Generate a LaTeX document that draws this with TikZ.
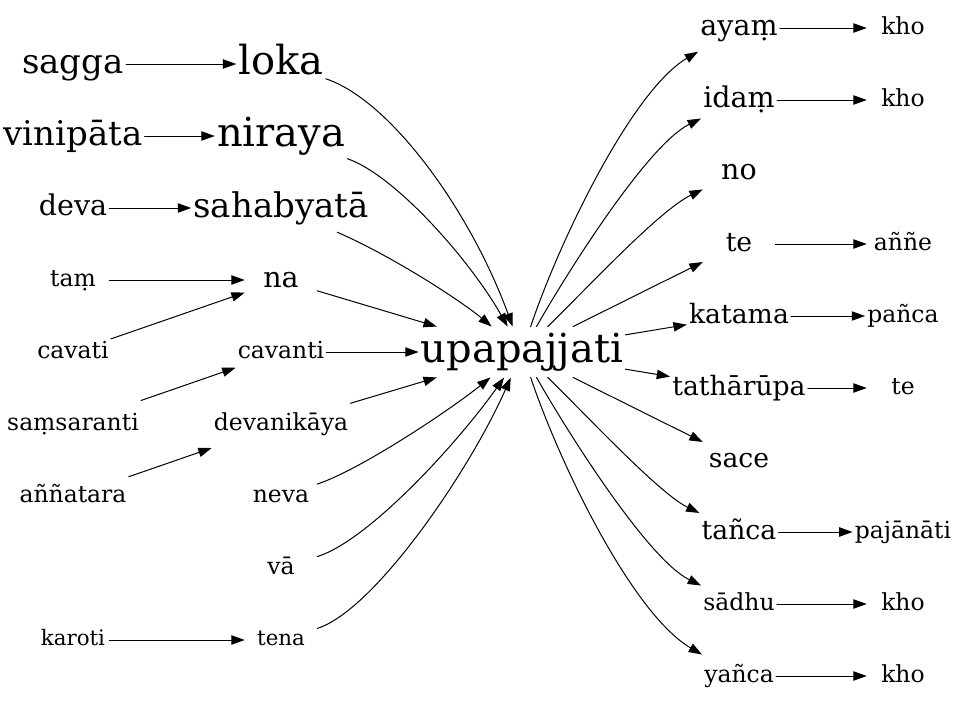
\documentclass[tikz,border=0pt]{standalone}
\usepackage{fontspec}
\setmainfont{DejaVuSerif.ttf}
\usetikzlibrary{arrows.meta}
\begin{document}
\begin{tikzpicture}[x=0.75pt,y=-0.75pt,line join=round,line cap=round,>={Triangle[length=10pt,width=7pt]},
	every node/.style={inner xsep=1.5pt,inner ysep=3pt,minimum width=54pt,minimum height=36pt},
	fhuge/.style={font=\fontsize{30}{36}\selectfont,text height=24pt,text depth=7.8pt},
	fbig/.style={font=\fontsize{25.5}{30}\selectfont,text height=20.4pt,text depth=6.6pt},
	fmid/.style={font=\fontsize{21.4}{26}\selectfont,text height=17.1pt,text depth=5.6pt},
	fnorm/.style={font=\fontsize{20}{24}\selectfont,text height=16pt,text depth=5.2pt},
	fsmall/.style={font=\fontsize{17.6}{21}\selectfont,text height=14.1pt,text depth=4.6pt},
	ftiny/.style={font=\fontsize{16}{19}\selectfont,text height=12.8pt,text depth=4.2pt},
	link/.style={->,line width=0.75pt}]
	\useasboundingbox (0,0) rectangle (957,707);
	% left column
	\node[fbig] (sagga) at (73,64) {sagga};
	\node[fbig] (vinipata) at (73,136) {vinipāta};
	\node[fmid] (deva) at (73,208) {deva};
	\node[fsmall] (tam) at (73,280) {taṃ};
	\node[fsmall] (cavati) at (73,352) {cavati};
	\node[fsmall] (samsaranti) at (73,424) {saṃsaranti};
	\node[fsmall] (annatara) at (73,496) {aññatara};
	\node[ftiny] (karoti) at (73,640) {karoti};
	% middle column
	\node[fhuge] (loka) at (281,64) {loka};
	\node[fhuge] (niraya) at (281,136) {niraya};
	\node[fbig] (sahabyata) at (281,208) {sahabyatā};
	\node[fmid] (na) at (281,280) {na};
	\node[fsmall] (cavanti) at (281,352) {cavanti};
	\node[fsmall] (devanikaya) at (281,424) {devanikāya};
	\node[fsmall] (neva) at (281,496) {neva};
	\node[fsmall] (va) at (281,568) {vā};
	\node[ftiny] (tena) at (281,640) {tena};
	% centre
	\node[fhuge] (upa) at (522,352) {upapajjati};
	% right column
	\node[fmid] (ayam) at (739,28) {ayaṃ};
	\node[fmid] (idam) at (739,100) {idaṃ};
	\node[fmid] (no) at (739,172) {no};
	\node[fnorm] (te) at (739,244) {te};
	\node[fnorm] (katama) at (739,316) {katama};
	\node[fnorm] (tatharupa) at (739,388) {tathārūpa};
	\node[fnorm] (sace) at (739,460) {sace};
	\node[fnorm] (tanca) at (739,532) {tañca};
	\node[fsmall] (sadhu) at (739,604) {sādhu};
	\node[fsmall] (yanca) at (739,676) {yañca};
	% far right
	\node[fsmall] (khoA) at (903,28) {kho};
	\node[fsmall] (khoB) at (903,100) {kho};
	\node[fsmall] (anne) at (903,244) {aññe};
	\node[fsmall] (panca) at (903,316) {pañca};
	\node[fsmall] (teB) at (903,388) {te};
	\node[fsmall] (pajanati) at (903,532) {pajānāti};
	\node[fsmall] (khoC) at (903,604) {kho};
	\node[fsmall] (khoD) at (903,676) {kho};
	% left edges
	\draw[link] (sagga)--(loka);
	\draw[link] (vinipata)--(niraya);
	\draw[link] (deva)--(sahabyata);
	\draw[link] (tam)--(na);
	\draw[link] (cavati)--(na);
	\draw[link] (samsaranti)--(cavanti);
	\draw[link] (annatara)--(devanikaya);
	\draw[link] (karoti)--(tena);
	% into upapajjati
	\draw[link] (loka) .. controls (390,100) and (470,210) .. (upa);
	\draw[link] (niraya) .. controls (395,175) and (470,260) .. (upa);
	\draw[link] (sahabyata) .. controls (390,255) and (460,300) .. (upa);
	\draw[link] (na)--(upa);
	\draw[link] (cavanti)--(upa);
	\draw[link] (devanikaya)--(upa);
	\draw[link] (neva) .. controls (360,470) and (450,410) .. (upa);
	\draw[link] (va) .. controls (370,540) and (460,440) .. (upa);
	\draw[link] (tena) .. controls (375,610) and (470,470) .. (upa);
	% out of upapajjati
	\draw[link] (upa) .. controls (562,234) and (634,89) .. (ayam);
	\draw[link] (upa) .. controls (571,266) and (649,144) .. (idam);
	\draw[link] (upa) .. controls (590,285) and (660,210) .. (no);
	\draw[link] (upa)--(te);
	\draw[link] (upa)--(katama);
	\draw[link] (upa)--(tatharupa);
	\draw[link] (upa)--(sace);
	\draw[link] (upa) .. controls (590,419) and (660,494) .. (tanca);
	\draw[link] (upa) .. controls (571,438) and (649,560) .. (sadhu);
	\draw[link] (upa) .. controls (562,470) and (634,615) .. (yanca);
	% right edges
	\draw[link] (ayam)--(khoA);
	\draw[link] (idam)--(khoB);
	\draw[link] (te)--(anne);
	\draw[link] (katama)--(panca);
	\draw[link] (tatharupa)--(teB);
	\draw[link] (tanca)--(pajanati);
	\draw[link] (sadhu)--(khoC);
	\draw[link] (yanca)--(khoD);
\end{tikzpicture}
\end{document}
